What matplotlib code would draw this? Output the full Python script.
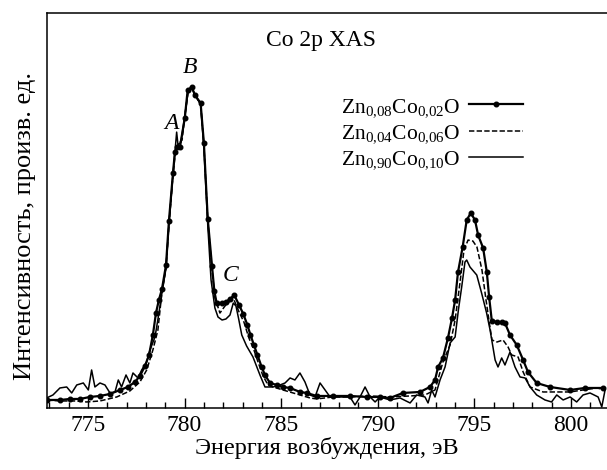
import matplotlib
matplotlib.use("Agg")
import matplotlib.pyplot as plt
from matplotlib.ticker import MultipleLocator

plt.rcParams['font.family'] = ['Liberation Serif', 'DejaVu Serif']
plt.rcParams['mathtext.fontset'] = 'custom'
plt.rcParams['mathtext.rm'] = 'Liberation Serif'
plt.rcParams['mathtext.it'] = 'Liberation Serif:italic'
plt.rcParams['mathtext.default'] = 'regular'

# Co 2p XAS, intensity in arbitrary units
e1 = [772.88, 773.55, 774.07, 774.59, 775.10, 775.62, 776.14, 776.66, 777.07, 777.43,
      777.69, 777.95, 778.16, 778.36, 778.52, 778.67, 778.83, 779.04, 779.19, 779.40,
      779.50, 779.62, 779.76, 780.01, 780.16, 780.37, 780.54, 780.83, 781.00, 781.20,
      781.42, 781.54, 781.66, 781.92, 782.13, 782.35, 782.57, 782.82, 783.04, 783.25,
      783.41, 783.59, 783.77, 783.99, 784.16, 784.42, 784.77, 785.09, 785.46, 785.97,
      786.32, 786.84, 787.68, 788.56, 789.43, 790.11, 790.63, 791.30, 792.18, 792.70,
      792.96, 793.12, 793.37, 793.63, 793.84, 794.00, 794.15, 794.39, 794.60, 794.81,
      795.03, 795.19, 795.45, 795.64, 795.76, 795.90, 796.16, 796.41, 796.58, 796.84,
      797.19, 797.52, 797.77, 798.22, 798.91, 799.95, 800.72, 801.66]
i1 = [8, 8, 9, 9, 11, 12, 14, 18, 21, 26,
      32, 42, 53, 73, 95, 108, 119, 143, 187, 235,
      256, 261, 261, 290, 318, 321, 313, 305, 265, 189,
      142, 117, 105, 105, 106, 109, 113, 103, 94, 83,
      73, 63, 53, 41, 33, 25, 23, 21, 20, 16,
      15, 12, 12, 12, 11, 11, 10, 15, 16, 21,
      28, 41, 50, 70, 90, 108, 136, 161, 188, 195,
      188, 173, 160, 136, 111, 87, 86, 86, 85, 73,
      63, 48, 36, 25, 21, 18, 20, 20]

e2 = [772.88, 773.55, 774.33, 774.93, 775.62, 776.49, 777.17, 777.69, 778.04, 778.36,
      778.62, 778.83, 779.04, 779.19, 779.40, 779.55, 779.71, 779.87, 780.02, 780.18,
      780.38, 780.54, 780.83, 781.00, 781.20, 781.42, 781.57, 781.83, 782.09, 782.35,
      782.56, 782.82, 783.07, 783.33, 783.59, 783.80, 784.06, 784.32, 784.58, 785.09,
      785.97, 786.49, 786.84, 787.68, 788.56, 789.60, 790.63, 791.67, 792.44, 792.96,
      793.37, 793.74, 794.00, 794.25, 794.46, 794.67, 794.92, 795.13, 795.39, 795.60,
      795.81, 795.91, 796.17, 796.48, 796.74, 796.93, 797.26, 797.52, 797.88, 798.55,
      799.95, 800.62, 801.35, 801.76]
i2 = [8, 7, 7, 6, 7, 11, 17, 26, 38, 58,
      78, 116, 140, 183, 233, 260, 265, 268, 293, 316,
      320, 313, 304, 263, 188, 138, 110, 95, 102, 107,
      108, 96, 86, 70, 58, 46, 32, 23, 21, 18,
      13, 10, 9, 11, 11, 12, 11, 12, 13, 18,
      46, 63, 88, 125, 158, 168, 167, 161, 138, 108,
      80, 68, 66, 68, 61, 53, 51, 36, 21, 16,
      16, 18, 20, 18]

e3 = [772.86, 773.19, 773.55, 773.90, 774.16, 774.42, 774.76, 775.02, 775.19, 775.36,
      775.62, 775.88, 776.14, 776.40, 776.57, 776.74, 776.97, 777.17, 777.33, 777.59,
      777.78, 778.04, 778.21, 778.47, 778.64, 778.83, 779.04, 779.19, 779.40, 779.59,
      779.66, 779.81, 780.02, 780.18, 780.38, 780.54, 780.83, 781.00, 781.20, 781.37,
      781.57, 781.73, 781.94, 782.14, 782.35, 782.52, 782.66, 782.79, 782.96, 783.21,
      783.54, 783.90, 784.16, 784.58, 784.94, 785.20, 785.46, 785.71, 785.97, 786.23,
      786.49, 786.75, 787.01, 787.27, 787.53, 788.04, 788.56, 788.82, 789.08, 789.34,
      789.60, 789.86, 790.11, 790.63, 791.15, 791.67, 792.01, 792.44, 792.60, 792.79,
      792.96, 793.22, 793.48, 793.74, 794.00, 794.17, 794.34, 794.51, 794.60, 794.77,
      795.12, 795.37, 795.63, 795.81, 796.07, 796.22, 796.41, 796.58, 796.84, 797.10,
      797.36, 797.62, 797.88, 798.22, 798.65, 798.99, 799.26, 799.59, 799.95, 800.29,
      800.62, 800.98, 801.40, 801.59, 801.76]
i3 = [10, 13, 20, 21, 15, 23, 25, 18, 38, 21,
      25, 23, 15, 16, 28, 21, 33, 25, 35, 30,
      38, 46, 58, 71, 91, 115, 140, 183, 233, 276,
      263, 266, 293, 316, 320, 313, 304, 260, 183, 128,
      100, 91, 88, 89, 93, 105, 102, 90, 73, 62,
      51, 33, 21, 21, 23, 25, 30, 28, 35, 26,
      13, 11, 25, 18, 11, 11, 11, 3, 11, 21,
      11, 6, 11, 8, 10, 5, 13, 11, 5, 18,
      11, 28, 41, 65, 71, 98, 121, 146, 148, 141,
      133, 115, 95, 78, 48, 41, 50, 43, 56, 41,
      31, 30, 21, 13, 8, 6, 13, 8, 11, 6,
      13, 15, 11, 1, 18]

labels = [r'Zn$_{0{,}08}$Co$_{0{,}02}$O',
          r'Zn$_{0{,}04}$Co$_{0{,}06}$O',
          r'Zn$_{0{,}90}$Co$_{0{,}10}$O']

fig = plt.figure(figsize=(6.07, 4.70), dpi=100)
ax = fig.add_axes([0.0774, 0.132, 0.9226, 0.840])

ax.plot(e1, i1, color='black', lw=1.6, marker='o', ms=3.3, label=labels[0])
ax.plot(e2, i2, color='black', lw=1.1, ls=(0, (3.5, 1.5)), label=labels[1])
ax.plot(e3, i3, color='black', lw=1.1, label=labels[2])

ax.set_xlim(772.88, 801.86)
ax.set_ylim(0, 395)
ax.xaxis.set_major_locator(MultipleLocator(5))
ax.xaxis.set_minor_locator(MultipleLocator(1))
ax.tick_params(axis='x', which='major', direction='in', length=7, width=1, labelsize=17, pad=5)
ax.tick_params(axis='x', which='minor', direction='in', length=4, width=1)
ax.tick_params(axis='y', left=False, labelleft=False)
ax.spines['right'].set_visible(False)
for s in ['left', 'top', 'bottom']:
    ax.spines[s].set_linewidth(1.1)

ax.set_xlabel('Энергия возбуждения, эВ', fontsize=17.5, labelpad=1)
ax.set_ylabel('Интенсивность, произв. ед.', fontsize=19)
ax.yaxis.set_label_coords(-0.02, 0.46)

ax.text(0.489, 0.93, 'Co 2p XAS', transform=ax.transAxes, ha='center', va='center', fontsize=17)
ax.text(779.3, 408 - 123, 'A', style='italic', fontsize=17, ha='center', va='center')
ax.text(780.3, 408 - 67, 'B', style='italic', fontsize=17, ha='center', va='center')
ax.text(782.4, 408 - 275, 'C', style='italic', fontsize=17, ha='center', va='center')

leg = ax.legend(loc='upper right', bbox_to_anchor=(0.85, 0.788), frameon=False,
                markerfirst=False, fontsize=15.5, handlelength=2.5, handletextpad=0.4,
                labelspacing=0.2, borderpad=0, borderaxespad=0)

fig.savefig('out.png', dpi=100)
